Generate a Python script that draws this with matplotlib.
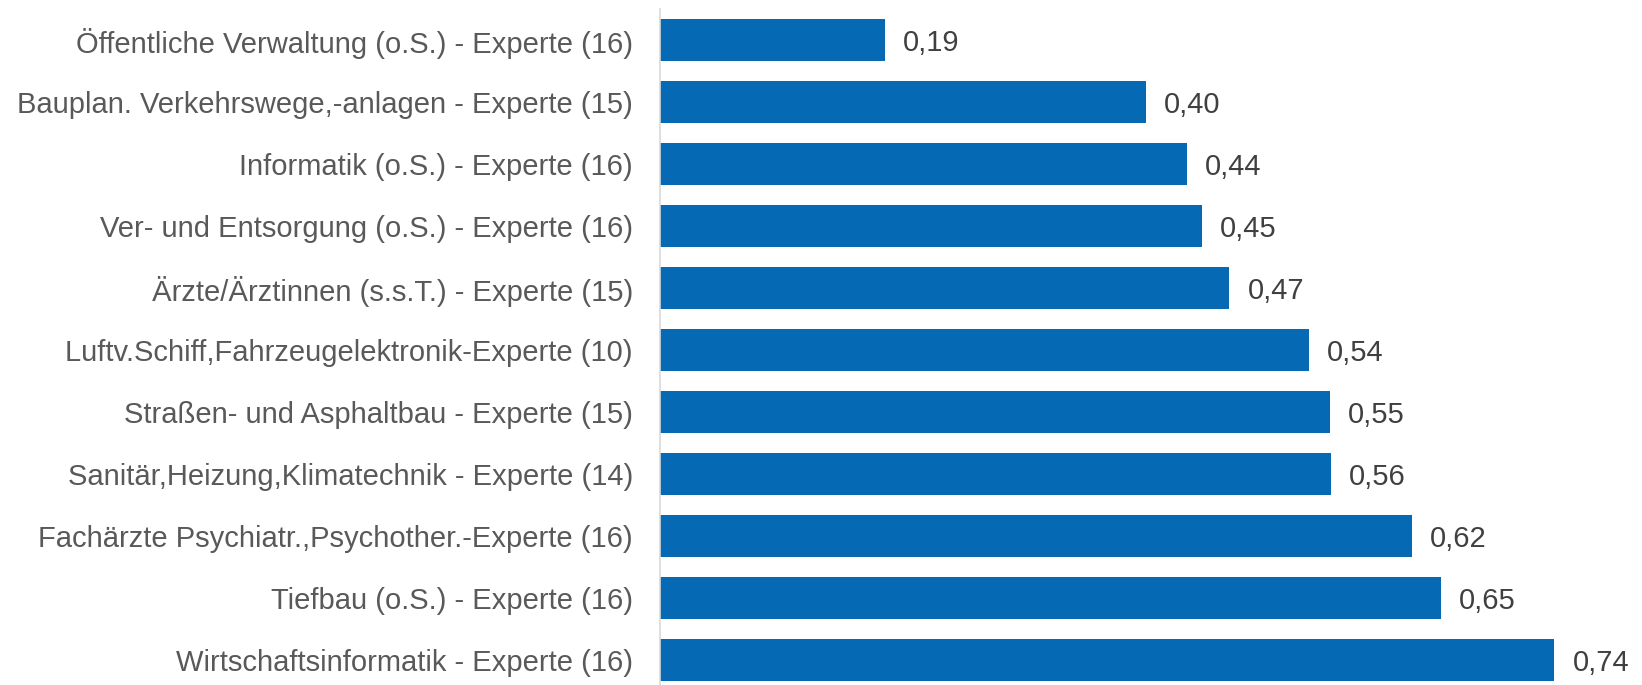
import matplotlib.pyplot as plt

plt.rcParams['font.family'] = ['Liberation Sans', 'DejaVu Sans']

# Daten (von oben nach unten)
berufe = ['Öffentliche Verwaltung (o.S.) - Experte (16)',
          'Bauplan. Verkehrswege,-anlagen - Experte (15)',
          'Informatik (o.S.) - Experte (16)',
          'Ver- und Entsorgung (o.S.) - Experte (16)',
          'Ärzte/Ärztinnen (s.s.T.) - Experte (15)',
          'Luftv.Schiff,Fahrzeugelektronik-Experte (10)',
          'Straßen- und Asphaltbau - Experte (15)',
          'Sanitär,Heizung,Klimatechnik - Experte (14)',
          'Fachärzte Psychiatr.,Psychother.-Experte (16)',
          'Tiefbau (o.S.) - Experte (16)',
          'Wirtschaftsinformatik - Experte (16)']
werte = [0.186, 0.402, 0.436, 0.448, 0.471, 0.537, 0.554, 0.555, 0.622, 0.646, 0.740]
beschriftung = ['0,19', '0,40', '0,44', '0,45', '0,47', '0,54', '0,55', '0,56', '0,62', '0,65', '0,74']

fig = plt.figure(figsize=(16.42, 6.85), dpi=100)
ax = fig.add_axes([660 / 1642, 0, 967 / 1642, 1 - 9 / 685])

pos = list(range(len(berufe)))
ax.barh(pos, werte, height=0.675, color='#0569B3')
for p, w, t in zip(pos, werte, beschriftung):
    ax.text(w + 0.015, p, t, va='center_baseline', ha='left',
            fontsize=21, color='#404040')

ax.set_yticks(pos)
ax.set_yticklabels(berufe, fontsize=21, color='#595959')
ax.set_ylim(10.4, -0.5)
ax.set_xlim(0, 0.8)
ax.set_xticks([])
ax.tick_params(axis='y', length=0, pad=19.5)
for s in ['top', 'right', 'bottom']:
    ax.spines[s].set_visible(False)
ax.spines['left'].set_color('#D9D9D9')
ax.spines['left'].set_linewidth(1.2)

plt.savefig('out.png', dpi=100)
